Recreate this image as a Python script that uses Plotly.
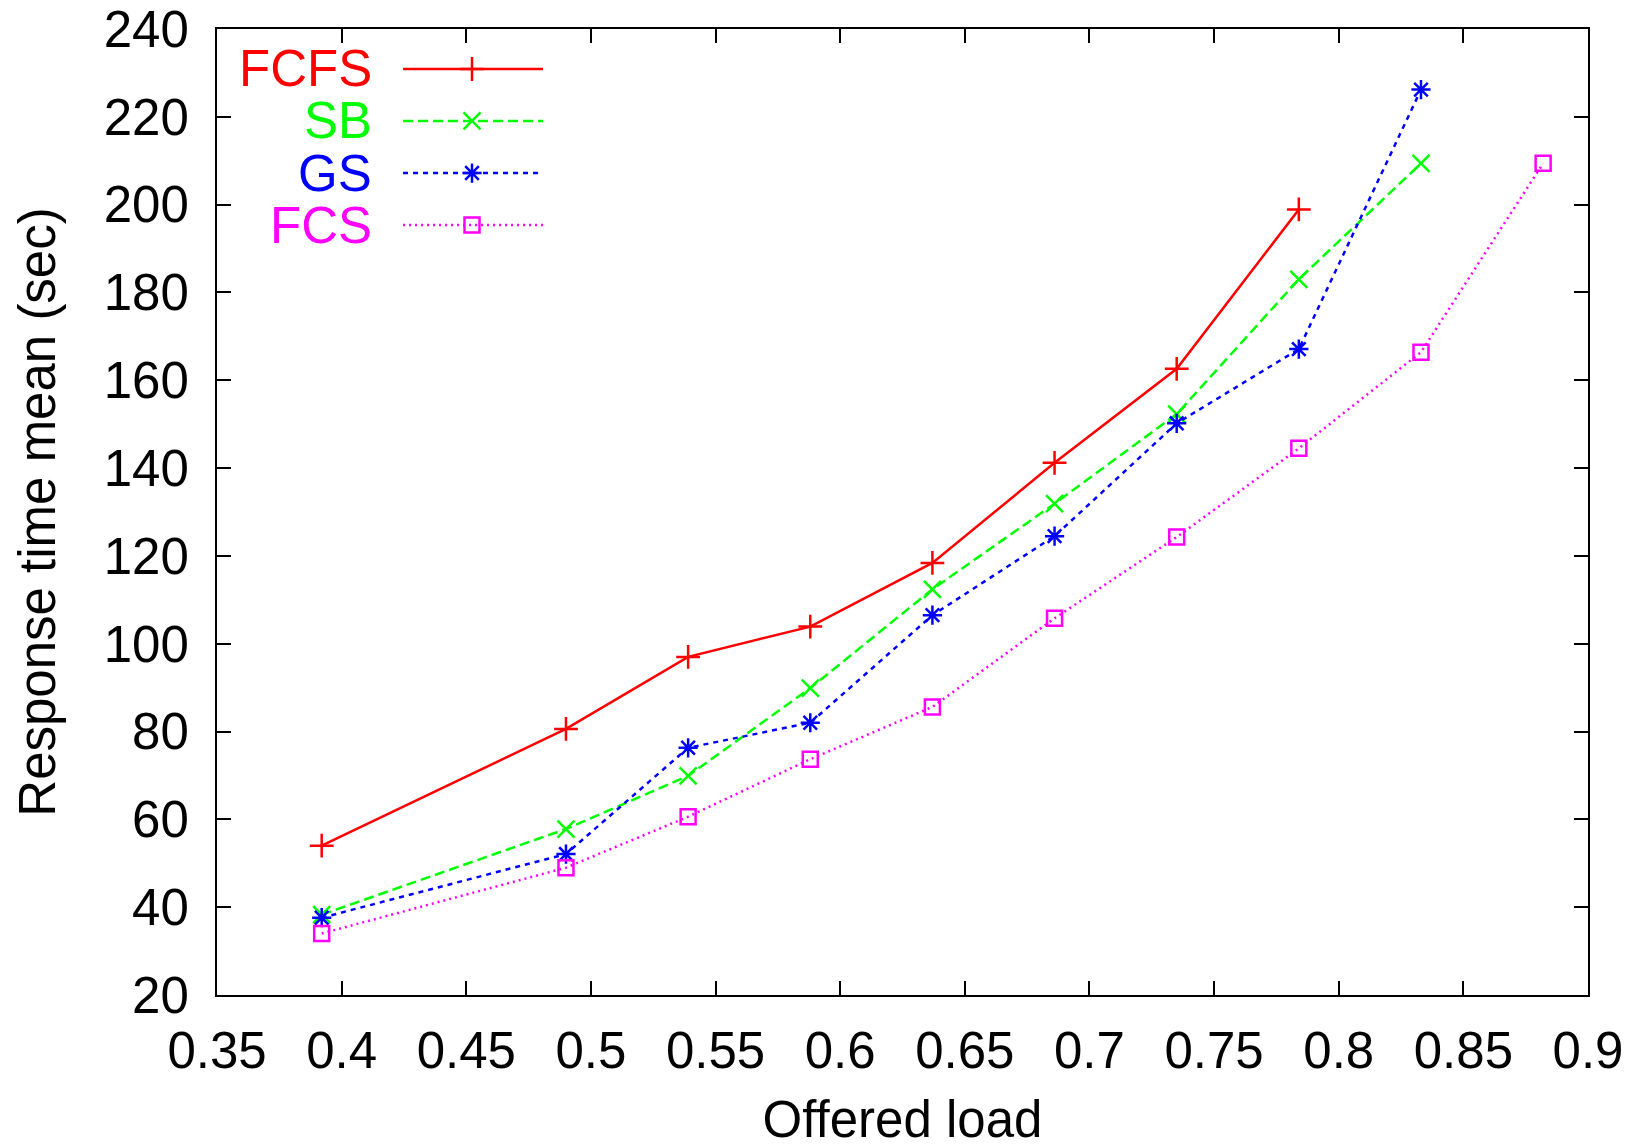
import plotly.graph_objects as go

# ---- data ----
load = [0.392, 0.49, 0.539, 0.588, 0.637, 0.686, 0.735, 0.784, 0.833, 0.882]
fcfs = [54.0, 80.6, 97.0, 103.9, 118.4, 141.2, 162.6, 198.9]
sb = [38.3, 57.8, 69.9, 89.9, 112.4, 131.9, 152.3, 183.0, 209.4]
gs = [37.6, 52.1, 76.3, 82.0, 106.5, 124.5, 150.2, 167.1, 226.2]
fcs = [34.0, 49.0, 60.6, 73.7, 85.6, 105.8, 124.3, 144.5, 166.4, 209.4]

series_names = ["FCFS", "SB", "GS", "FCS"]
series_vals = [fcfs, sb, gs, fcs]
colors = ["#ff0000", "#00ff00", "#0000ff", "#ff00ff"]
dashes = ["solid", "10px,5px", "5px,5px", "2px,4px"]
symbols = ["cross-thin", "x-thin", "asterisk-open", "square-open"]
msizes = [17, 17, 16, 15]

x_ticks = [0.35, 0.4, 0.45, 0.5, 0.55, 0.6, 0.65, 0.7, 0.75, 0.8, 0.85, 0.9]
y_ticks = [20, 40, 60, 80, 100, 120, 140, 160, 180, 200, 220, 240]

FONT = "Liberation Sans, Arial, Helvetica, sans-serif"
FS = 51
LW = 2.5

fig = go.Figure()
for name, vals, c, d, s, ms in zip(series_names, series_vals, colors, dashes, symbols, msizes):
    fig.add_trace(go.Scatter(
        x=load[:len(vals)], y=vals, mode="lines+markers", name=name,
        line=dict(color=c, width=LW, dash=d),
        marker=dict(symbol=s, size=ms, color=c, line=dict(color=c, width=LW)),
        showlegend=False,
    ))

# ---- custom legend (text left, sample right) ----
leg_rows = [0.9586, 0.9048, 0.8509, 0.7971]
for name, c, d, s, ms, ry in zip(series_names, colors, dashes, symbols, msizes, leg_rows):
    fig.add_trace(go.Scatter(
        x=[0.1357, 0.2378], y=[ry, ry], mode="lines", xaxis="x2", yaxis="y2",
        line=dict(color=c, width=LW, dash=d), showlegend=False, hoverinfo="skip"))
    fig.add_trace(go.Scatter(
        x=[0.186], y=[ry], mode="markers", xaxis="x2", yaxis="y2",
        marker=dict(symbol=s, size=ms, color=c, line=dict(color=c, width=LW)),
        showlegend=False, hoverinfo="skip"))
    fig.add_annotation(x=0.1145, y=ry, xref="paper", yref="paper", text=name,
                       showarrow=False, xanchor="right", yanchor="middle",
                       font=dict(family=FONT, size=FS, color=c))

axis_common = dict(
    showline=True, linecolor="black", linewidth=2, mirror="ticks",
    ticks="inside", ticklen=14, tickwidth=2, tickcolor="black",
    showgrid=False, zeroline=False, automargin=False,
    tickfont=dict(family=FONT, size=FS, color="black"),
)

fig.update_layout(
    width=1636, height=1148,
    margin=dict(l=217, r=48, t=29, b=153),
    paper_bgcolor="white", plot_bgcolor="white",
    font=dict(family=FONT, size=FS, color="black"),
    xaxis=dict(range=[0.35, 0.9], tickvals=x_ticks,
               ticktext=[("%g" % v) for v in x_ticks],
               ticklabelstandoff=10,
               title=dict(text="Offered load", font=dict(family=FONT, size=FS), standoff=32),
               **axis_common),
    yaxis=dict(range=[20, 240], tickvals=y_ticks,
               ticktext=[str(v) for v in y_ticks],
               ticklabelstandoff=16,
               title=dict(text="Response time mean (sec)", font=dict(family=FONT, size=FS), standoff=32),
               **axis_common),
    xaxis2=dict(overlaying="x", range=[0, 1], visible=False),
    yaxis2=dict(overlaying="y", range=[0, 1], visible=False),
)

fig.write_html("out.html")
